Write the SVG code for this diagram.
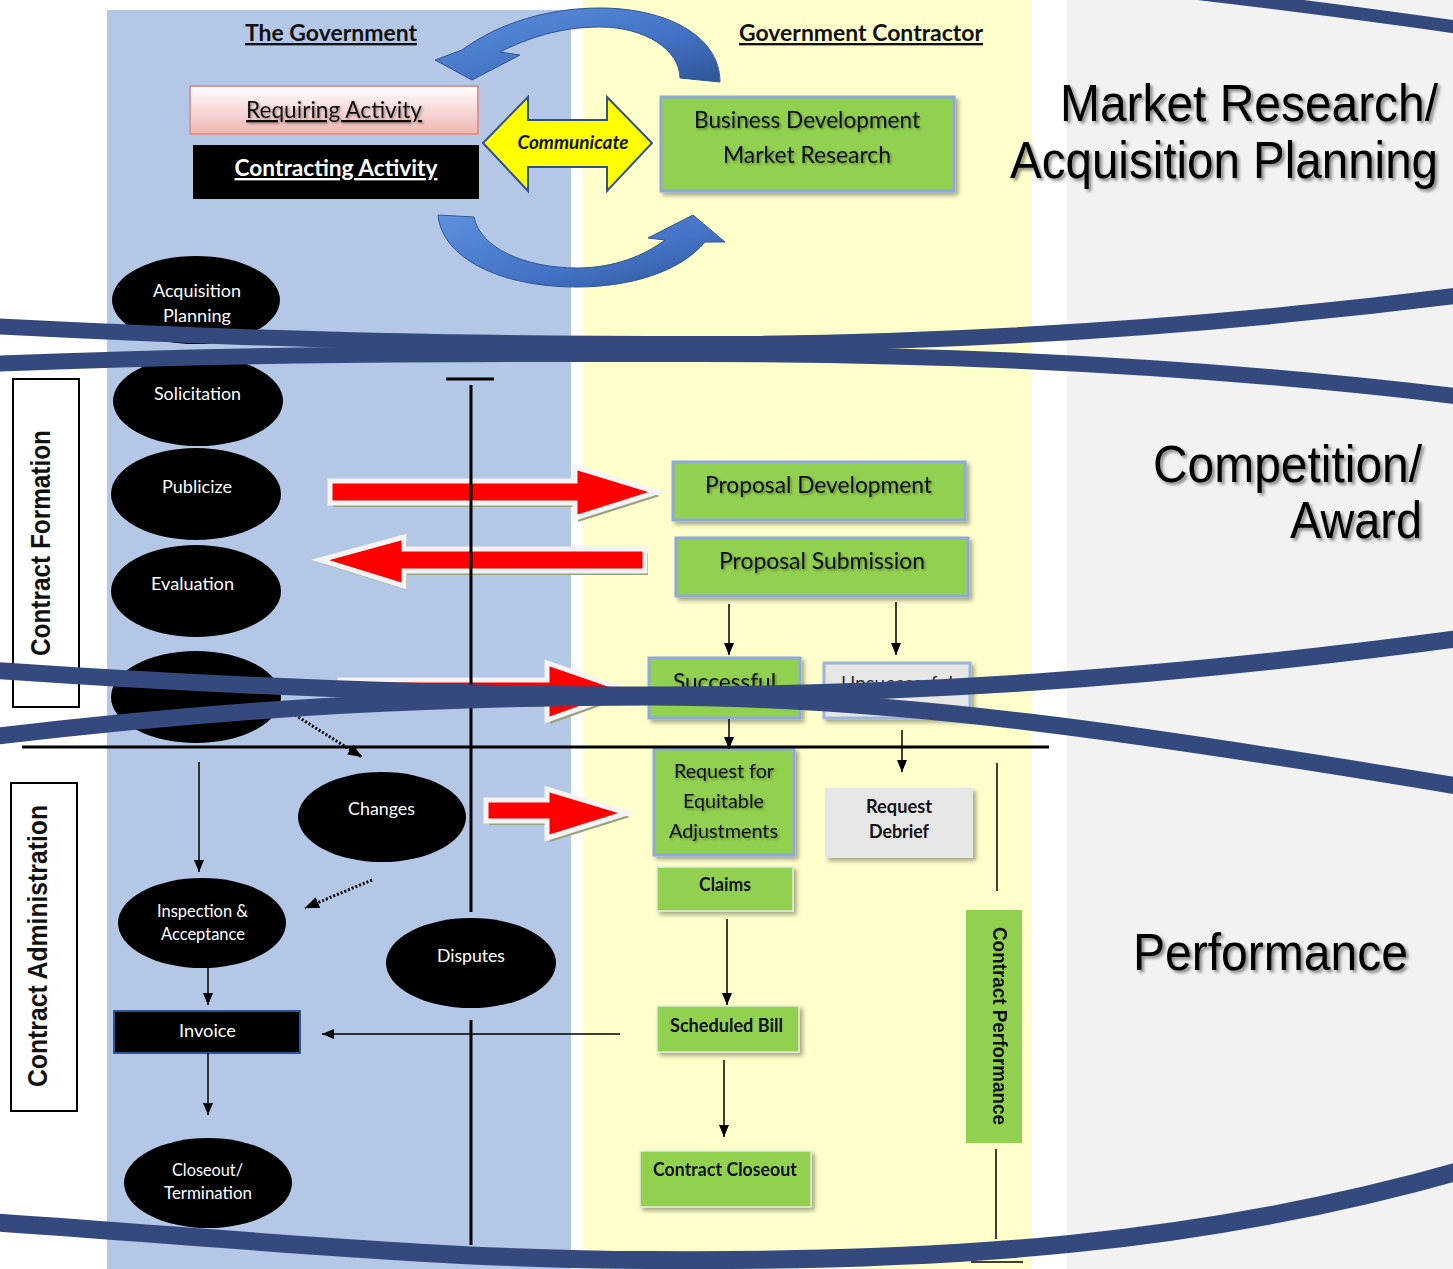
<svg xmlns="http://www.w3.org/2000/svg" width="1453" height="1269" viewBox="0 0 1453 1269">
<defs>
<style>
.cal{font-family:Lato,"Open Sans","Liberation Sans",sans-serif}
.ar{font-family:"Liberation Sans",Arial,sans-serif}
.b{font-weight:bold}
.wt{fill:#fff}
.dk{fill:#111}
.ell{fill:#000}
.green{fill:#92d050}
.gb{stroke:#8eaadb;stroke-width:3}
.gl{stroke:#e3ecd8;stroke-width:1.5}
.ln{stroke:#000;stroke-width:1.5;fill:none}
.thick{stroke:#000;stroke-width:3;fill:none}
.dot{stroke:#000;stroke-width:3;stroke-dasharray:2 2;fill:none}
.red{fill:#ff0000;stroke:#f4f4f4;stroke-width:5;stroke-linejoin:miter}
.rsh{fill:#98a27c}
.band{fill:none;stroke:#34497d;stroke-linecap:butt}
.big{font-family:"Liberation Sans",Arial,sans-serif;font-size:46px;fill:#000}
</style>
<linearGradient id="pink" x1="0" y1="0" x2="0" y2="1"><stop offset="0" stop-color="#ffffff"/><stop offset="1" stop-color="#efb4b2"/></linearGradient>
<linearGradient id="blu" x1="0" y1="0" x2="1" y2="1"><stop offset="0" stop-color="#5d90dd"/><stop offset="0.6" stop-color="#4472c4"/><stop offset="1" stop-color="#2f5597"/></linearGradient>
<filter id="sh" x="-10%" y="-10%" width="130%" height="140%"><feDropShadow dx="3" dy="3" stdDeviation="2" flood-color="#000" flood-opacity="0.35"/></filter>
<filter id="ts" x="-5%" y="-20%" width="115%" height="150%"><feDropShadow dx="1.5" dy="1.5" stdDeviation="1" flood-color="#000" flood-opacity="0.35"/></filter>
<filter id="tsb" x="-3%" y="-20%" width="108%" height="150%"><feDropShadow dx="2.5" dy="2.5" stdDeviation="1.5" flood-color="#000" flood-opacity="0.45"/></filter>
<marker id="ah" viewBox="0 0 12 10" refX="12" refY="5" markerWidth="12" markerHeight="10" markerUnits="userSpaceOnUse" orient="auto"><path d="M0,0 L12,5 L0,10 z" fill="#000"/></marker>
<marker id="ahd" viewBox="0 0 12 10" refX="12" refY="5" markerWidth="14" markerHeight="12" markerUnits="userSpaceOnUse" orient="auto"><path d="M0,0 L12,5 L0,10 z" fill="#000"/></marker>
</defs>

<g id="lanes">
<rect x="107" y="10" width="464" height="1259" fill="#b4c7e7"/>
<rect x="583" y="0" width="449" height="1269" fill="#ffffcc"/>
<rect x="1067" y="0" width="386" height="1269" fill="#f2f2f2"/>
</g>

<g id="headers">
<text class="cal b dk" x="331" y="41" font-size="23.5" text-anchor="middle" text-decoration="underline" textLength="172" lengthAdjust="spacingAndGlyphs">The Government</text>
<text class="cal b dk" x="861" y="41" font-size="23.5" text-anchor="middle" text-decoration="underline" textLength="244" lengthAdjust="spacingAndGlyphs">Government Contractor</text>
</g>

<g id="phase-labels" filter="url(#tsb)">
<text class="big" transform="translate(1438,121) scale(1,1.14)" text-anchor="end" textLength="378" lengthAdjust="spacingAndGlyphs">Market Research/</text>
<text class="big" transform="translate(1438,178) scale(1,1.14)" text-anchor="end" textLength="428" lengthAdjust="spacingAndGlyphs">Acquisition Planning</text>
<text class="big" transform="translate(1422,482) scale(1,1.14)" text-anchor="end" textLength="269" lengthAdjust="spacingAndGlyphs">Competition/</text>
<text class="big" transform="translate(1422,538) scale(1,1.14)" text-anchor="end" textLength="132" lengthAdjust="spacingAndGlyphs">Award</text>
<text class="big" transform="translate(1133,970) scale(1,1.14)" textLength="275" lengthAdjust="spacingAndGlyphs">Performance</text>
</g>

<g id="requiring-activity">
<rect x="190" y="86" width="288" height="48" fill="url(#pink)" stroke="#d99694" stroke-width="2"/>
<text class="cal dk" x="334" y="118" font-size="23.5" text-anchor="middle" text-decoration="underline" textLength="176" lengthAdjust="spacingAndGlyphs" filter="url(#ts)">Requiring Activity</text>
</g>
<g id="contracting-activity">
<rect x="193" y="145" width="286" height="54" fill="#000"/>
<text class="cal b wt" x="336" y="176" font-size="23.5" text-anchor="middle" text-decoration="underline" textLength="203" lengthAdjust="spacingAndGlyphs">Contracting Activity</text>
</g>
<g id="communicate">
<polygon points="483,143 528,97 528,120 607,120 607,97 652,143 607,191 607,167 528,167 528,191" fill="#ffff00" stroke="#2f4f8f" stroke-width="2"/>
<text class="cal b dk" x="573" y="149" font-size="19" font-style="italic" text-anchor="middle" textLength="111" lengthAdjust="spacingAndGlyphs">Communicate</text>
</g>
<g id="business-development">
<rect x="661" y="97" width="293" height="94" class="green gb" filter="url(#sh)"/>
<text class="cal dk" x="807" y="128" font-size="23" text-anchor="middle" textLength="226" lengthAdjust="spacingAndGlyphs" filter="url(#ts)">Business Development</text>
<text class="cal dk" x="807" y="163" font-size="23" text-anchor="middle" textLength="168" lengthAdjust="spacingAndGlyphs" filter="url(#ts)">Market Research</text>
</g>

<g id="contract-formation-label">
<rect x="13" y="379" width="66" height="328" fill="#fff" stroke="#000" stroke-width="2"/>
<text class="ar b dk" transform="translate(50,543) rotate(-90)" font-size="27" text-anchor="middle" textLength="226" lengthAdjust="spacingAndGlyphs">Contract Formation</text>
</g>
<g id="contract-administration-label">
<rect x="11" y="783" width="66" height="328" fill="#fff" stroke="#000" stroke-width="2"/>
<text class="ar b dk" transform="translate(47,946) rotate(-90)" font-size="27" text-anchor="middle" textLength="282" lengthAdjust="spacingAndGlyphs">Contract Administration</text>
</g>

<g id="acquisition-planning">
<ellipse cx="196" cy="300" rx="84" ry="44" class="ell"/>
<text class="cal wt" x="197" y="297" font-size="17.5" text-anchor="middle" textLength="88" lengthAdjust="spacingAndGlyphs">Acquisition</text>
<text class="cal wt" x="197" y="322" font-size="17.5" text-anchor="middle" textLength="68" lengthAdjust="spacingAndGlyphs">Planning</text>
</g>
<g id="solicitation">
<ellipse cx="198" cy="401" rx="85" ry="45" class="ell"/>
<text class="cal wt" x="197.5" y="400" font-size="17.5" text-anchor="middle" textLength="87" lengthAdjust="spacingAndGlyphs">Solicitation</text>
</g>
<g id="publicize">
<ellipse cx="196" cy="494" rx="85" ry="46" class="ell"/>
<text class="cal wt" x="197" y="493" font-size="17.5" text-anchor="middle" textLength="70" lengthAdjust="spacingAndGlyphs">Publicize</text>
</g>
<g id="evaluation">
<ellipse cx="196" cy="591" rx="85" ry="46" class="ell"/>
<text class="cal wt" x="192.5" y="590" font-size="17.5" text-anchor="middle" textLength="83" lengthAdjust="spacingAndGlyphs">Evaluation</text>
</g>
<g id="award">
<ellipse cx="196" cy="697" rx="85" ry="46" class="ell"/>
</g>
<g id="changes">
<ellipse cx="382" cy="817" rx="84" ry="45" class="ell"/>
<text class="cal wt" x="381.5" y="815" font-size="17.5" text-anchor="middle" textLength="67" lengthAdjust="spacingAndGlyphs">Changes</text>
</g>
<g id="inspection-acceptance">
<ellipse cx="202" cy="923" rx="84" ry="45" class="ell"/>
<text class="cal wt" x="202.5" y="917" font-size="16.5" text-anchor="middle" textLength="91" lengthAdjust="spacingAndGlyphs">Inspection &amp;</text>
<text class="cal wt" x="203" y="940" font-size="16.5" text-anchor="middle" textLength="84" lengthAdjust="spacingAndGlyphs">Acceptance</text>
</g>
<g id="disputes">
<ellipse cx="471" cy="963" rx="85" ry="45" class="ell"/>
<text class="cal wt" x="471" y="962" font-size="17.5" text-anchor="middle" textLength="68" lengthAdjust="spacingAndGlyphs">Disputes</text>
</g>
<g id="invoice">
<rect x="114" y="1011" width="186" height="42" fill="#000" stroke="#2f5597" stroke-width="2"/>
<text class="cal wt" x="207.5" y="1037" font-size="17.5" text-anchor="middle" textLength="57" lengthAdjust="spacingAndGlyphs">Invoice</text>
</g>
<g id="closeout-termination">
<ellipse cx="208" cy="1183" rx="84" ry="45" class="ell"/>
<text class="cal wt" x="207.5" y="1176" font-size="16.5" text-anchor="middle" textLength="71" lengthAdjust="spacingAndGlyphs">Closeout/</text>
<text class="cal wt" x="208" y="1199" font-size="16.5" text-anchor="middle" textLength="88" lengthAdjust="spacingAndGlyphs">Termination</text>
</g>

<g id="proposal-development">
<rect x="673" y="462" width="292" height="58" class="green gb" filter="url(#sh)"/>
<text class="cal dk" x="818.5" y="493" font-size="22.5" text-anchor="middle" textLength="227" lengthAdjust="spacingAndGlyphs" filter="url(#ts)">Proposal Development</text>
</g>
<g id="proposal-submission">
<rect x="676" y="538" width="292" height="58" class="green gb" filter="url(#sh)"/>
<text class="cal dk" x="822" y="569" font-size="22.5" text-anchor="middle" textLength="206" lengthAdjust="spacingAndGlyphs" filter="url(#ts)">Proposal Submission</text>
</g>
<g id="successful">
<rect x="649" y="658" width="151" height="60" class="green gb" filter="url(#sh)"/>
<text class="cal dk" x="724.5" y="690" font-size="22.5" text-anchor="middle" textLength="103" lengthAdjust="spacingAndGlyphs" filter="url(#ts)">Successful</text>
</g>
<g id="unsuccessful">
<rect x="824" y="663" width="146" height="55" fill="#e6e6e6" stroke="#9db5d8" stroke-width="3" filter="url(#sh)"/>
<text class="cal" fill="#333" x="897" y="690" font-size="19" text-anchor="middle" textLength="112" lengthAdjust="spacingAndGlyphs">Unsuccessful</text>
</g>
<g id="request-equitable-adjustments">
<rect x="654" y="749" width="140" height="106" class="green gb" filter="url(#sh)"/>
<text class="cal dk" x="724" y="778" font-size="19" text-anchor="middle" textLength="100" lengthAdjust="spacingAndGlyphs" filter="url(#ts)">Request for</text>
<text class="cal dk" x="723.5" y="808" font-size="19" text-anchor="middle" textLength="81" lengthAdjust="spacingAndGlyphs" filter="url(#ts)">Equitable</text>
<text class="cal dk" x="723.5" y="838" font-size="19" text-anchor="middle" textLength="109" lengthAdjust="spacingAndGlyphs" filter="url(#ts)">Adjustments</text>
</g>
<g id="request-debrief">
<rect x="825" y="788" width="148" height="70" fill="#e7e6e6" filter="url(#sh)"/>
<text class="cal b dk" x="899" y="813" font-size="18.5" text-anchor="middle" textLength="66" lengthAdjust="spacingAndGlyphs">Request</text>
<text class="cal b dk" x="899" y="838" font-size="18.5" text-anchor="middle" textLength="60" lengthAdjust="spacingAndGlyphs">Debrief</text>
</g>
<g id="claims">
<rect x="657" y="867" width="136" height="44" class="green gl" filter="url(#sh)"/>
<text class="cal b dk" x="725" y="891" font-size="18.5" text-anchor="middle" textLength="52" lengthAdjust="spacingAndGlyphs">Claims</text>
</g>
<g id="scheduled-bill">
<rect x="657" y="1006" width="142" height="46" class="green gl" filter="url(#sh)"/>
<text class="cal b dk" x="726.5" y="1032" font-size="18.5" text-anchor="middle" textLength="113" lengthAdjust="spacingAndGlyphs">Scheduled Bill</text>
</g>
<g id="contract-closeout">
<rect x="640" y="1151" width="171" height="56" class="green gl" filter="url(#sh)"/>
<text class="cal b dk" x="725" y="1176" font-size="18.5" text-anchor="middle" textLength="144" lengthAdjust="spacingAndGlyphs">Contract Closeout</text>
</g>
<g id="contract-performance">
<rect x="966" y="910" width="56" height="233" class="green"/>
<text class="ar b dk" transform="translate(993,1026) rotate(90)" font-size="21" text-anchor="middle" textLength="198" lengthAdjust="spacingAndGlyphs">Contract Performance</text>
</g>

<g id="connectors">
<path d="M720,82 L680,78 C680,50 645,27 600,27 C560,27 528,38 500,52 L520,55 L472,80 L435,60 L462,50 C500,22 550,8 600,8 C665,8 720,35 720,82 Z" fill="url(#blu)" stroke="#2f5597" stroke-width="1"/>
<path d="M438,215 L474,217 C480,248 525,268 577,268 C615,268 645,255 665,240 L648,238 L693,215 L725,242 L705,242 C680,272 630,287 577,287 C500,287 442,258 438,215 Z" fill="url(#blu)" stroke="#2f5597" stroke-width="1"/>

<g transform="translate(3,4)">
<polygon class="rsh" points="330,481 575,481 575,467 657,492 575,518 575,503 330,503"/>
<polygon class="rsh" points="645,549 404,549 404,537 320,560 404,586 404,571 645,571"/>
<polygon class="rsh" points="340,680 547,680 547,663 628,691 547,720 547,703 340,703"/>
<polygon class="rsh" points="486,800 547,800 547,789 627,813 547,838 547,821 486,821"/>
</g>
<polygon class="red" points="330,481 575,481 575,467 657,492 575,518 575,503 330,503"/>
<polygon class="red" points="645,549 404,549 404,537 320,560 404,586 404,571 645,571"/>
<polygon class="red" points="340,680 547,680 547,663 628,691 547,720 547,703 340,703"/>
<polygon class="red" points="486,800 547,800 547,789 627,813 547,838 547,821 486,821"/>

<line class="thick" x1="446" y1="379" x2="494" y2="379"/>
<line class="thick" x1="471" y1="385" x2="471" y2="912"/>
<line class="thick" x1="471" y1="1020" x2="471" y2="1245"/>
<line class="thick" x1="22" y1="747" x2="1049" y2="747"/>
<line class="ln" stroke-width="2" x1="997" y1="763" x2="997" y2="891"/>
<line class="ln" stroke-width="2" x1="996" y1="1149" x2="996" y2="1239"/>
<line class="ln" stroke-width="2" x1="971" y1="1262" x2="1023" y2="1262"/>

<line class="ln" x1="729" y1="604" x2="729" y2="655" marker-end="url(#ah)"/>
<line class="ln" x1="896" y1="602" x2="896" y2="655" marker-end="url(#ah)"/>
<line class="ln" x1="729" y1="719" x2="729" y2="749" marker-end="url(#ah)"/>
<line class="ln" x1="902" y1="730" x2="902" y2="772" marker-end="url(#ah)"/>
<line class="ln" x1="199" y1="762" x2="199" y2="872" marker-end="url(#ah)"/>
<line class="ln" x1="208" y1="968" x2="208" y2="1005" marker-end="url(#ah)"/>
<line class="ln" x1="208" y1="1053" x2="208" y2="1115" marker-end="url(#ah)"/>
<line class="ln" x1="727" y1="919" x2="727" y2="1005" marker-end="url(#ah)"/>
<line class="ln" x1="724" y1="1060" x2="724" y2="1137" marker-end="url(#ah)"/>
<line class="ln" x1="620" y1="1034" x2="322" y2="1034" marker-end="url(#ah)"/>
<line class="dot" x1="295" y1="715" x2="362" y2="757" marker-end="url(#ahd)"/>
<line class="dot" x1="372" y1="880" x2="305" y2="908" marker-end="url(#ahd)"/>
</g>

<g id="phase-bands">
<path class="band" stroke-width="16" d="M-10,326 C300,342 500,344 700,344 C950,344 1200,328 1463,295"/>
<path class="band" stroke-width="16" d="M-10,364 C300,352 500,354 700,354 C950,354 1200,365 1463,397"/>
<path class="band" stroke-width="17" d="M-10,670 C250,688 450,695 650,695 C900,695 1150,680 1463,638"/>
<path class="band" stroke-width="17" d="M-10,737 C250,706 450,697 650,697 C900,697 1150,735 1463,787"/>
<path class="band" stroke-width="18" d="M-10,1222 C250,1240 450,1260 650,1260 C950,1262 1200,1245 1463,1170"/>
<path class="band" stroke-width="13" d="M1150,-12 Q1300,5 1463,28"/>
</g>
</svg>
